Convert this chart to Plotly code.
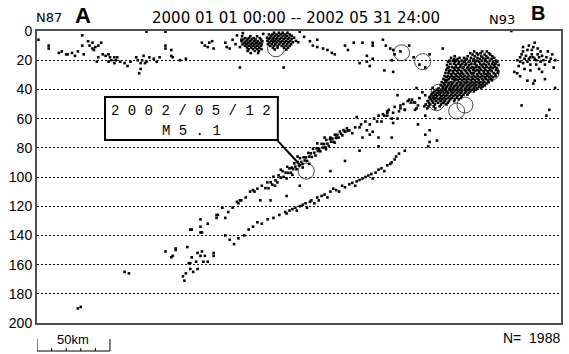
import plotly.graph_objects as go

# ---------------- data (distance along A-B [km], depth [km]) ----------------
shallow_west = [
    (1, 6), (8, 10), (8, 12), (15, 15), (17, 14), (20, 16), (21, 16), (24, 15), (26, 17), (28, 14),
    (31, 10), (32, 16), (31, 3), (35, 7), (36, 10), (38, 12), (39, 13), (40, 11), (42, 10), (44, 8),
    (38, 8), (41, 21), (42, 18), (45, 16), (47, 17), (49, 16), (50, 18), (51, 20), (53, 18), (54, 20),
    (55, 18), (57, 21), (53, 22), (49, 21), (60, 22), (62, 24), (64, 21), (68, 18), (69, 20), (71, 22),
    (72, 20), (73, 17), (74, 22), (71, 26), (70, 29), (75, 21), (77, 18), (80, 19), (82, 21), (84, 18),
    (75, 0.5), (88, 0.5), (88, 10), (88, 12), (92, 13), (92, 17), (93, 18), (98, 20), (102, 19),
]
shallow_mid = [
    (113, 8), (115, 10), (118, 8), (120, 7), (117, 11), (121, 12), (129, 8), (130, 11), (132, 12),
    (134, 6), (137, 3), (136, 9), (139, 11), (140, 6), (141, 1.5), (187, 7), (189, 10), (192, 6),
    (192, 11), (196, 12), (199, 13), (202, 15), (204, 16), (211, 10), (213, 13), (217, 8), (223, 8),
    (230, 8), (230, 10), (169, 25), (139, 25), (221, 22), (226, 21), (228, 24), (230, 19), (226, 17),
    (180, 0.5), (155, 2), (183, 4),
]
swarm_a_rows = [
    (3.6, [140.5, 146.2, 150.8]),
    (4.9, [142.7, 145.1, 148.4, 152.6]),
    (5.8, [141.3, 144.2, 147.0, 149.8, 153.5]),
    (7.1, [140.2, 143.3, 145.9, 148.9, 151.2, 154.4]),
    (8.0, [142.1, 144.8, 147.6, 150.3, 152.9]),
    (9.2, [140.8, 143.6, 146.5, 149.1, 151.7, 154.0]),
    (10.1, [142.5, 145.3, 148.1, 150.9, 153.4]),
    (11.3, [143.9, 146.8, 149.6, 152.3]),
    (12.4, [145.0, 147.9, 151.0, 153.8]),
    (13.6, [144.3, 149.2, 152.0]),
    (15.1, [146.4, 151.5]),
]
swarm_b_rows = [
    (1.2, [162.4, 165.7, 168.3, 171.6]),
    (2.4, [158.9, 161.2, 164.1, 167.0, 169.8, 173.2]),
    (3.3, [160.3, 162.9, 165.5, 168.7, 171.3, 174.5]),
    (4.6, [157.6, 159.7, 162.1, 164.6, 167.4, 170.2, 172.8, 176.1]),
    (5.5, [158.8, 161.4, 163.8, 166.3, 169.1, 171.9, 174.6]),
    (6.8, [157.9, 160.5, 162.8, 165.2, 168.0, 170.7, 173.5, 177.4]),
    (7.7, [159.3, 161.9, 164.3, 166.9, 169.6, 172.3, 175.2, 179.0]),
    (9.0, [158.2, 160.8, 163.4, 166.1, 168.8, 171.4, 174.0]),
    (10.2, [159.8, 162.5, 165.0, 167.7, 170.5, 173.1]),
    (11.4, [161.6, 164.8, 169.2, 172.0]),
    (12.7, [162.9, 170.8]),
]
east_scatter = [
    (237, 6), (239, 10), (242, 12), (244, 13), (245, 16), (243, 20), (249, 14), (238, 27), (244, 28),
    (262, 23), (266, 25), (269, 16), (278, 12), (255, 10), (258, 18), (325, 0),
    (247, 44), (255, 47), (258, 49), (261, 51), (264, 42), (269, 45), (271, 39), (259, 54), (240, 55),
    (240, 58), (244, 56), (249, 53), (252, 54), (266, 58), (276, 60), (261, 64), (269, 68),
    (266, 71), (269, 76), (268, 79), (274, 75),
]
swarm_east_rows = [
    (14.0, [299.5, 305.0, 308.2]),
    (15.2, [296.8, 301.3, 303.9, 309.6]),
    (16.1, [298.4, 302.2, 306.7, 310.5]),
    (17.3, [286.2, 295.1, 299.9, 304.4, 307.8, 311.9]),
    (18.4, [283.7, 289.5, 292.6, 297.3, 301.8, 305.6, 309.1, 313.2]),
    (19.2, [285.9, 288.1, 294.4, 299.2, 303.5, 307.2, 311.4]),
    (20.3, [282.5, 284.8, 287.3, 290.9, 293.1, 296.5, 298.7, 301.2, 304.8, 306.9, 310.3, 314.5]),
    (21.1, [281.6, 286.4, 289.2, 292.8, 295.7, 300.3, 302.9, 308.4, 312.6, 315.3]),
    (22.4, [283.2, 285.7, 288.8, 291.4, 294.1, 297.6, 299.8, 303.7, 306.2, 309.5, 311.8, 314.1]),
    (23.3, [280.9, 287.1, 290.2, 293.5, 296.2, 301.1, 304.6, 307.5, 313.3, 316.2]),
    (24.6, [282.1, 284.3, 286.9, 289.9, 292.3, 295.4, 298.3, 300.7, 302.5, 305.4, 308.1, 310.9, 313.7]),
    (25.4, [281.3, 285.5, 288.4, 291.6, 294.8, 297.2, 299.6, 303.3, 306.6, 309.7, 312.2, 315.1]),
    (26.7, [280.4, 283.1, 286.3, 289.1, 292.9, 295.9, 298.9, 301.6, 304.2, 307.3, 310.6, 314.4]),
    (27.5, [282.4, 284.9, 287.8, 290.7, 293.8, 296.6, 300.2, 302.8, 305.9, 308.8, 311.5, 316.0]),
    (28.8, [279.8, 281.9, 285.2, 288.5, 291.2, 294.5, 297.4, 299.1, 303.0, 306.3, 309.2, 312.9, 315.6]),
    (29.6, [283.6, 286.7, 289.6, 292.1, 295.3, 298.1, 301.4, 304.3, 307.7, 310.1, 313.8]),
    (30.9, [279.2, 281.5, 284.4, 287.4, 290.3, 293.2, 296.0, 299.4, 302.1, 305.2, 308.5, 311.2, 314.2]),
    (31.7, [280.6, 283.0, 285.8, 288.9, 291.7, 294.6, 297.8, 300.5, 303.6, 306.8, 309.9, 312.5]),
    (32.9, [278.4, 282.2, 284.7, 287.1, 290.0, 292.8, 295.6, 298.6, 301.9, 304.9, 307.4, 310.8]),
    (33.8, [279.6, 281.1, 286.1, 288.2, 291.3, 294.2, 297.1, 300.0, 302.7, 305.7, 308.9, 311.7]),
    (35.1, [277.3, 280.2, 283.3, 285.4, 289.4, 292.4, 295.0, 298.2, 301.1, 303.8, 306.5, 309.4]),
    (35.9, [278.7, 282.0, 284.6, 287.6, 290.6, 293.7, 296.8, 299.7, 302.6, 305.3, 308.0]),
    (37.2, [276.6, 279.4, 281.7, 284.0, 286.8, 289.8, 292.2, 295.5, 298.4, 300.9, 304.0, 306.9]),
    (38.0, [277.9, 280.9, 283.5, 285.9, 288.6, 291.5, 294.3, 297.0, 299.9, 302.8, 305.5]),
    (39.3, [275.1, 278.2, 280.3, 282.8, 285.3, 288.0, 290.8, 293.6, 296.3, 299.1, 301.7, 304.2]),
    (40.2, [273.8, 276.9, 279.5, 282.4, 284.2, 287.2, 289.7, 292.9, 295.4, 298.2, 300.6]),
    (41.4, [272.5, 275.4, 277.8, 280.6, 283.6, 286.0, 288.7, 291.1, 294.0, 296.9, 299.3]),
    (42.3, [271.2, 274.3, 276.4, 279.1, 281.8, 284.9, 287.8, 290.4, 293.2, 295.8]),
    (43.6, [270.1, 272.9, 275.8, 278.5, 281.0, 283.9, 286.6, 289.5, 292.2, 294.9]),
    (44.5, [271.7, 274.1, 277.2, 279.9, 282.7, 285.4, 288.1, 291.0]),
    (45.8, [268.9, 271.0, 273.4, 276.1, 278.9, 281.6, 284.3, 287.5, 290.5]),
    (46.7, [269.8, 272.2, 275.0, 277.6, 280.2, 283.1, 286.2, 289.0]),
    (48.0, [267.6, 270.6, 273.3, 276.5, 279.3, 282.3, 285.8]),
    (49.1, [268.5, 271.4, 274.7, 278.1, 281.4]),
    (50.3, [266.3, 269.4, 272.6, 276.8, 280.5]),
    (51.6, [265.4, 268.2, 271.8, 275.9]),
    (53.0, [267.4, 272.8]),
]
far_east = [
    (341, 8), (340, 11), (336, 13), (333, 14), (332, 16), (329, 20), (331, 21), (333, 22), (336, 21),
    (338, 18), (340, 18), (342, 20), (344, 18), (347, 20), (349, 18), (353, 16), (351, 21), (327, 28),
    (329, 29), (336, 34), (341, 34), (346, 28), (332, 51), (351, 54), (340, 36), (355, 39),
    (335, 17), (337, 19), (339, 16), (341, 19), (343, 16), (345, 21), (334, 19), (338, 23), (342, 23),
    (346, 17), (348, 23), (350, 14), (337, 10), (343, 12), (339, 13), (345, 14), (333, 11), (331, 18),
    (352, 19), (355, 20), (338, 27), (334, 26), (344, 26), (348, 33), (330, 24), (354, 25), (331, 31),
    (349, 58),
]
slab_deep = [
    (30, 189), (28, 190), (60, 165), (63, 166), (88, 151), (95, 149), (95, 150), (93, 154), (92, 155),
    (123, 126), (123, 128), (112, 129), (117, 132), (112, 134), (112, 138), (113, 138), (105, 136),
    (106, 136), (103, 148), (110, 152), (113, 151), (115, 154), (121, 152), (121, 154), (112, 154),
    (106, 155), (109, 158), (105, 159), (104, 159), (117, 158), (114, 158), (110, 163), (107, 165),
    (105, 163), (102, 166), (100, 168), (101, 171),
    (129, 128), (131, 124), (134, 121), (138, 118), (140, 116), (143, 114), (146, 110), (148, 109),
    (151, 108), (154, 106), (149, 110), (139, 116), (137, 117), (127, 121), (124, 126),
]
slab_upper = [
    (156.5, 107.6), (157.8, 103.7), (158.6, 107.7), (160.1, 103.6), (161.2, 105.2), (162.0, 99.8),
    (163.4, 102.3), (164.7, 103.7), (165.5, 98.9), (166.9, 100.4), (168.2, 96.0), (169.0, 99.9),
    (170.3, 97.0), (171.4, 93.0), (172.1, 97.2), (173.0, 94.1), (173.9, 97.1), (174.6, 93.6),
    (175.5, 94.6), (176.3, 90.6), (177.0, 92.9), (177.8, 94.7), (178.6, 89.8), (179.5, 92.1),
    (180.2, 87.1), (181.0, 89.7), (181.9, 91.1), (182.7, 86.5), (183.4, 88.7), (184.3, 86.6),
    (185.1, 89.0), (185.9, 83.5), (186.6, 86.0), (187.5, 83.8), (188.3, 86.3), (189.1, 80.7),
    (189.9, 83.4), (190.8, 85.3), (191.6, 80.4), (192.4, 82.2), (193.3, 80.6), (194.1, 82.4),
    (195.0, 77.3), (195.8, 79.9), (196.7, 77.4), (197.5, 79.6), (198.2, 74.6), (199.0, 77.2),
    (199.9, 78.8), (200.7, 74.1), (201.5, 75.8), (202.4, 73.7), (203.2, 75.9), (204.1, 71.0),
    (204.9, 73.3), (205.8, 71.1), (206.6, 73.0), (207.5, 68.9), (208.3, 70.4), (209.2, 71.5),
    (210.0, 67.9), (211.1, 69.0), (212.3, 66.7), (213.0, 68.3),
    (163, 106), (167, 95), (175, 98.5), (178.5, 86), (186.5, 91), (192, 77), (198, 81), (204, 76.5),
    (171, 101), (182, 93.5),
    (260, 39), (257, 47), (256, 49), (259, 49), (260, 53), (252, 54), (249, 51), (240, 56), (238, 58),
    (240, 55), (236, 62), (233, 62), (243, 60), (247, 60), (244, 63), (230, 69), (226, 68), (219, 59),
    (221, 66), (228, 71), (234, 73), (243, 73), (214, 68), (211, 69), (205, 73), (201, 73), (197, 73),
    (223, 73), (216, 70), (218, 66), (222, 64), (225, 62), (228, 64), (231, 60), (234, 58), (237, 57),
    (241, 54), (245, 52), (248, 55), (251, 50), (254, 48), (262, 46), (266, 44),
]
slab_lower = [
    (129, 140), (132, 143), (135, 146), (138, 142), (142, 140), (145, 136), (148, 134), (151, 131),
    (154, 132), (158, 129), (162, 128), (166, 126), (170, 124), (173, 123), (177, 121), (180, 120),
    (184, 118), (187, 117), (192, 114), (195, 113), (201, 110), (205, 109), (209, 106), (214, 105),
    (219, 103), (223, 101), (227, 99), (232, 97), (236, 94), (240, 92), (243, 90), (245, 88),
    (171, 125), (175, 122), (178, 123), (182, 119), (185, 121), (188, 116), (190, 118), (193, 116),
    (197, 112), (199, 114), (203, 108), (207, 110), (211, 107), (216, 104), (218, 106), (221, 102),
    (225, 100), (229, 98), (230, 101), (234, 95), (238, 96), (242, 91), (246, 86), (248, 84), (252, 82),
    (153, 116), (160, 116), (171, 113), (180, 106), (201, 96), (211, 89), (221, 82), (234, 79),
]

# large events (open circles)
big_dist = [163.7, 249.8, 264.2, 311.4, 275.3, 273.7, 293.2, 287.5, 184.5]
big_depth = [11.9, 14.9, 21.0, 28.5, 41.6, 49.1, 50.7, 54.8, 96.0]
big_mag = [5.2, 5.1, 5.1, 5.0, 5.0, 5.1, 5.1, 5.1, 5.1]

period_text = "2000 01 01 00:00 -- 2002 05 31 24:00"
event_count = 1988
label_event_date = "2002/05/12"
label_event_mag = 5.1
depth_ticks = list(range(0, 201, 20))
section_length_km = 359

# ---------------- assemble ----------------
def rows_to_points(rows):
    return [(x, d) for d, xs in rows for x in xs]

all_pts = (shallow_west + shallow_mid + rows_to_points(swarm_a_rows) + rows_to_points(swarm_b_rows)
           + east_scatter + rows_to_points(swarm_east_rows) + far_east + slab_deep + slab_upper + slab_lower)
dist = [p[0] for p in all_pts]
depth = [p[1] for p in all_pts]

fig = go.Figure()
fig.add_trace(go.Scatter(
    x=dist, y=depth, mode="markers",
    marker=dict(symbol="square", size=2.6, color="black", line=dict(width=0)),
    hoverinfo="skip"))
fig.add_trace(go.Scatter(
    x=big_dist, y=big_depth, mode="markers",
    marker=dict(symbol="circle", size=[16 + 8 * (m - 5.1) for m in big_mag],
                color="rgba(255,255,255,0)", line=dict(color="black", width=1)),
    hoverinfo="skip"))

L, T, W, H = 37, 31, 524, 292
def px(xp):
    return (xp - L) / W
def py(yp):
    return (T + H - yp) / H

font_sans = "DejaVu Sans"
ann = [
    dict(x=px(49), y=py(18), text="N87", font=dict(family=font_sans, size=13)),
    dict(x=px(83), y=py(15), text="<b>A</b>", font=dict(family="Liberation Sans", size=22)),
    dict(x=px(296), y=py(18), text=period_text, font=dict(family=font_sans, size=15)),
    dict(x=px(502), y=py(19), text="N93", font=dict(family=font_sans, size=13)),
    dict(x=px(538), y=py(12.5), text="<b>B</b>", font=dict(family="Liberation Sans", size=20)),
    dict(x=px(562), y=py(338), text="N=  %d" % event_count, xanchor="right",
         font=dict(family="Liberation Sans", size=14)),
    dict(x=px(73), y=py(340), text="50km", font=dict(family="Liberation Sans", size=13)),
]
for a in ann:
    a.setdefault("xanchor", "center")
    a.update(xref="paper", yref="paper", yanchor="middle", showarrow=False)
    a["font"]["color"] = "black"

box_x0, box_x1, box_d0, box_d1 = 46.6, 165.0, 45.2, 74.7
fig.add_annotation(x=(box_x0 + box_x1) / 2, y=55.1, xref="x", yref="y", showarrow=False,
                   text=" ".join(label_event_date), font=dict(family="Liberation Mono", size=14, color="black"))
fig.add_annotation(x=(box_x0 + box_x1) / 2, y=68.8, xref="x", yref="y", showarrow=False,
                   text=" ".join("M%.1f" % label_event_mag), font=dict(family="Liberation Mono", size=14, color="black"))
for a in ann:
    fig.add_annotation(**a)

shapes = [
    dict(type="rect", xref="x", yref="y", x0=box_x0, x1=box_x1, y0=box_d0, y1=box_d1,
         line=dict(color="black", width=2), fillcolor="white", layer="above"),
    dict(type="line", xref="x", yref="y", x0=box_x1 - 0.5, y0=box_d1, x1=big_dist[-1] - 3.9,
         y1=big_depth[-1] - 3.9, line=dict(color="black", width=2)),
    # 50 km scale bar
    dict(type="line", xref="x", yref="paper", x0=0, x1=50, y0=py(351), y1=py(351), line=dict(color="black", width=1)),
]
for k in range(0, 51, 10):
    top = 339 if k in (0, 50) else 348
    shapes.append(dict(type="line", xref="x", yref="paper", x0=k, x1=k, y0=py(351), y1=py(top),
                       line=dict(color="black", width=1)))
fig.update_layout(shapes=shapes)

fig.update_layout(
    width=569, height=354, margin=dict(l=L, r=569 - L - W, t=T, b=354 - T - H, autoexpand=False),
    paper_bgcolor="white", plot_bgcolor="white", showlegend=False,
    xaxis=dict(range=[0, section_length_km], showgrid=False, zeroline=False, showticklabels=False,
               ticks="", showline=True, mirror=True, linecolor="#505050", linewidth=2, automargin=False),
    yaxis=dict(range=[200, 0], tickvals=depth_ticks, showgrid=True, gridcolor="black", gridwidth=1,
               griddash="2px,2px", zeroline=False, ticks="", showline=True, mirror=True,
               linecolor="#505050", linewidth=2, automargin=False,
               tickfont=dict(family="Liberation Sans", size=14, color="black")),
)
fig.write_html("out.html", config={"displayModeBar": False},
               post_script="document.body.style.margin='0px';document.body.style.padding='0px';")
